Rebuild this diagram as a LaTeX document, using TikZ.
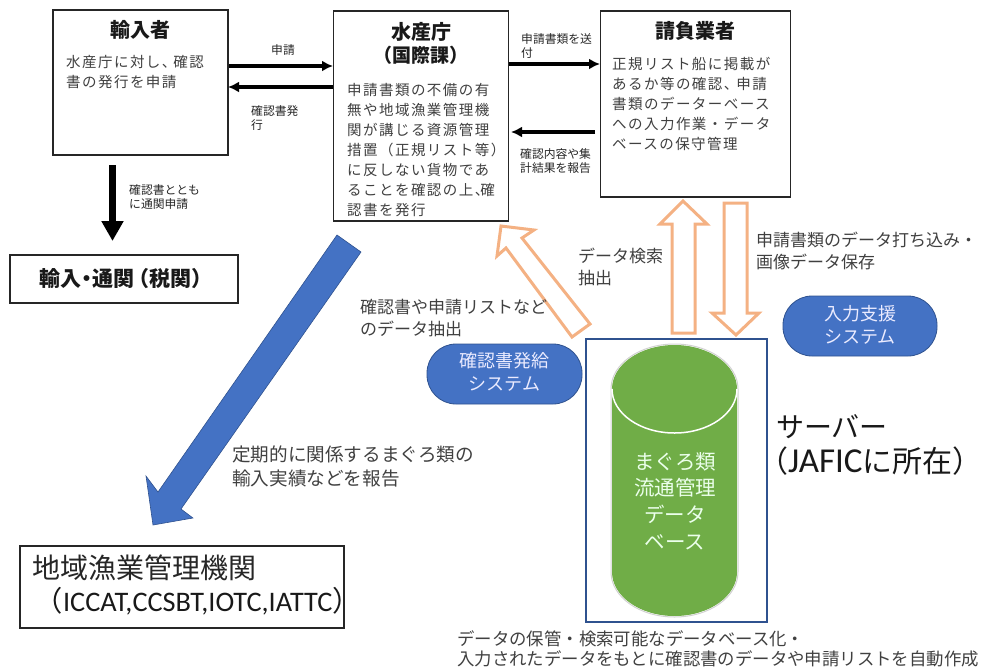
\documentclass[tikz,border=0pt]{standalone}
\usepackage{fontspec}
\setmainfont{Noto Sans CJK JP}
\newfontfamily\spaced[LetterSpace=10]{Noto Sans CJK JP}
\newfontfamily\latinf{Carlito}
\definecolor{bodygrey}{HTML}{404040}
\definecolor{pillblue}{HTML}{4472C4}
\definecolor{pilledge}{HTML}{2F528F}
\definecolor{orangeline}{HTML}{F4B183}
\definecolor{dbgreen}{HTML}{70AD47}
\definecolor{serverline}{HTML}{2F528F}
\tikzset{
  x=1pt,y=-1pt,
  box/.style={draw=black!85,line width=1.3pt,fill=white,inner sep=0pt},
  title/.style={font=\fontsize{20}{24}\selectfont\bfseries,text=black!90,inner sep=0pt,align=center},
  body/.style={font=\spaced\fontsize{14.5}{20}\selectfont,text=bodygrey,inner sep=0pt,align=left,anchor=north west},
  small/.style={font=\fontsize{11.8}{14.5}\selectfont,text=black!85,inner sep=0pt,align=left,anchor=north west},
  medium/.style={font=\fontsize{17}{22}\selectfont,text=bodygrey,inner sep=0pt,align=left,anchor=north west},
  pill/.style={rounded corners=29pt,fill=pillblue,draw=pilledge,line width=.8pt,inner sep=0pt},
  pilltext/.style={inner sep=0pt,text=white!92!blue,font=\fontsize{18}{22.5}\selectfont,align=center},
  thinarrow/.style={line width=3.2pt,black,-{Latex[length=11pt,width=11pt]}},
  hollow/.style={draw=orangeline,fill=white,line width=3pt,miter limit=10},
}
\usetikzlibrary{arrows.meta,positioning}
\begin{document}
\begin{tikzpicture}
\useasboundingbox (0,0) rectangle (985,670);
% boxes
\node[box,minimum width=175pt,minimum height=145pt] (imp) at (140.5,82.5) {};
\node[box,minimum width=175pt,minimum height=210pt] (fa) at (421,116) {};
\node[box,minimum width=190pt,minimum height=186pt] (con) at (695.5,104) {};
\node[box,minimum width=228pt,minimum height=48pt] (cust) at (124,279) {};
\node[box,minimum width=324pt,minimum height=82pt] (rfmo) at (182,587) {};
% titles and text
\node[title] (impT) at (140,30) {輸入者};
\node[body] (impB) at (66,55) {水産庁に対し、\hspace{-3pt}確認\\書の発行を申請};
\node[title] (faT) at (421,43) {水産庁\\[-1pt]{\bfseries\fontsize{19}{24}\selectfont（国際課）}};
\node[body] (faB) at (347,83) {申請書類の不備の有\\無や地域漁業管理機\\関が講じる資源管理\\措置（正規リスト等）\\に反しない貨物であ\\ることを確認の上、\hspace{-9pt}確\\認書を発行};
\node[title] (conT) at (695,31) {請負業者};
\node[body] (conB) at (612,57) {正規リスト船に掲載が\\あるか等の確認、\hspace{-2pt}申請\\書類のデーターベース\\への入力作業・データ\\ベースの保守管理};
\node[title,font=\fontsize{21}{24}\selectfont\bfseries] (custT) at (123,279) {輸入\hspace{-5pt}・\hspace{-5pt}通関\hspace{-6pt}（税関）\hspace{-6pt}};
% RFMO text
\node[inner sep=0pt,anchor=west,font=\fontsize{28}{30}\selectfont,text=black!85] (rfmoA) at (32,568) {地域漁業管理機関};
\node[inner sep=0pt,anchor=east,font=\fontsize{28.3}{30}\selectfont,text=black!90] (rfmoB) at (361,601) {（{\latinf ICCAT,CCSBT,IOTC,IATTC}）};
% black arrows
\coordinate (a1) at (229,66); \coordinate (a2) at (333,66);
\draw[thinarrow] (a1) -- (a2);
\coordinate (b1) at (333,87); \coordinate (b2) at (228,87);
\draw[thinarrow] (b1) -- (b2);
\coordinate (c1) at (509,64); \coordinate (c2) at (600,64);
\draw[thinarrow] (c1) -- (c2);
\coordinate (d1) at (595,132); \coordinate (d2) at (511,132);
\draw[thinarrow] (d1) -- (d2);
\coordinate (e1) at (112.5,165); \coordinate (e2) at (112.5,241);
\draw[line width=7pt,black,-{Triangle[length=20pt,width=21pt]}] (e1) -- (e2);
\node[small,anchor=center] (l1) at (283,50) {申請};
\node[small] (l2) at (251,105) {確認書発\\行};
\node[small] (l3) at (129,184) {確認書ととも\\に通関申請};
\node[small] (l4) at (521,33) {申請書類を送\\付};
\node[small] (l5) at (520,148) {確認内容や集\\計結果を報告};
% big blue arrow
\draw[fill=pillblue,draw=pilledge,line width=.6pt] (337,235) -- (361,252) -- (181,509) -- (193,518) -- (153,525) -- (146,476) -- (158,492) -- cycle;
% hollow arrows
\draw[hollow] (683,201) -- (707,224) -- (695,224) -- (695,333) -- (672,333) -- (672,224) -- (660,224) -- cycle;
\draw[hollow] (724,203) -- (747,203) -- (747,313) -- (759,313) -- (736,335) -- (712,313) -- (724,313) -- cycle;
\draw[hollow] (501,226) -- (534,230) -- (522,238) -- (590,324) -- (572,337) -- (506,248) -- (497,256) -- cycle;
% server
\node[draw=serverline,line width=1.3pt,minimum width=181pt,minimum height=283pt,inner sep=0pt] (srv) at (676.5,480.5) {};
\fill[dbgreen] (612,389) arc[start angle=180,end angle=360,x radius=62.5,y radius=44] -- (737,572) arc[start angle=0,end angle=180,x radius=62.5,y radius=44] -- cycle;
\draw[black!18,line width=1pt] (611,389) arc[start angle=180,end angle=360,x radius=63.5,y radius=45] -- (738,572) arc[start angle=0,end angle=180,x radius=63.5,y radius=45] -- cycle;
\draw[white,line width=1.5pt] (612,389) arc[start angle=180,end angle=0,x radius=62.5,y radius=44];
\node[inner sep=0pt,align=center,text=white!92!green,font=\fontsize{20.5}{26.7}\selectfont] (dbT) at (675,501) {まぐろ類\\流通管理\\データ\\ベース};
\node[pill,minimum width=155pt,minimum height=60pt] (p1) at (504.5,374) {};
\node[pilltext] (p1T) at (504.5,372) {確認書発給\\システム};
\node[pill,minimum width=154pt,minimum height=60pt] (p2) at (860,326) {};
\node[pilltext] (p2T) at (860,325) {入力支援\\システム};
% medium labels
\node[medium] (m1) at (578,248) {データ検索\\抽出};
\node[medium] (m2) at (756,232) {申請書類のデータ打ち込み・\\画像データ保存};
\node[medium] (m3) at (360,299) {確認書や申請リストなど\\のデータ抽出};
\node[medium,font=\fontsize{18.6}{24}\selectfont] (m4) at (232,446) {定期的に関係するまぐろ類の\\輸入実績などを報告};
\node[medium,font=\fontsize{17.4}{20.5}\selectfont] (m5) at (457,630) {データの保管・検索可能なデータベース化・\\入力されたデータをもとに確認書のデータや申請リストを自動作成};
\node[inner sep=0pt,anchor=west,font=\fontsize{28}{30}\selectfont,text=black!90] (s1) at (776,427) {サーバー};
\node[inner sep=0pt,anchor=west,font=\fontsize{30}{32}\selectfont,text=black!90] (s2) at (758,461) {（{\latinf\fontsize{35}{32}\selectfont JAFIC}に所在）};
\end{tikzpicture}
\end{document}
